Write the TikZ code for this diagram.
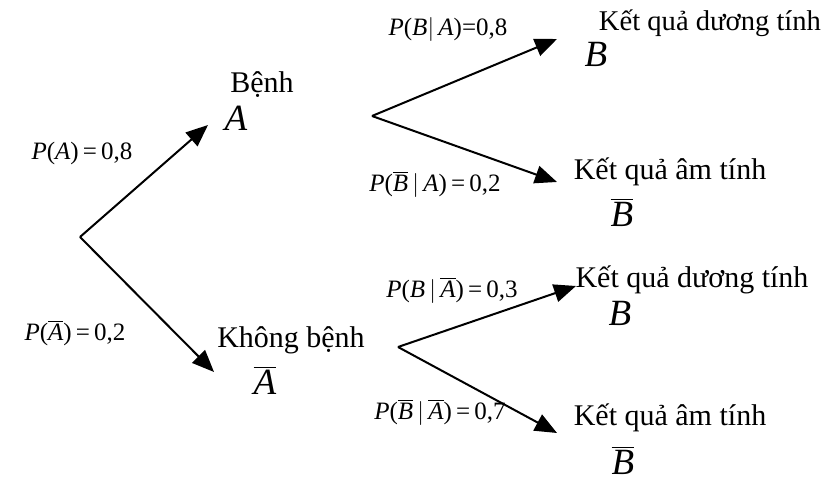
\documentclass[tikz,border=0pt]{standalone}
\usepackage{fontspec}
\setmainfont{Liberation Serif}
\usepackage{tikz}
\usetikzlibrary{arrows.meta}

\newcommand{\vI}[1]{\textit{#1}}
\newcommand{\vbar}[1]{$\overline{\mbox{\textit{#1}}}$}

\begin{document}
\begin{tikzpicture}[
    x=0.5pt, y=-0.5pt,
    line/.style={-{Triangle[length=11pt,width=9pt]}, line width=1pt},
    txt/.style={inner sep=0pt, font=\fontsize{15}{17}\selectfont},
    prob/.style={inner sep=0pt, font=\fontsize{12.5}{14}\selectfont},
    sym/.style={inner sep=0pt, font=\fontsize{18.5}{20}\selectfont}
]
\useasboundingbox (0,0) rectangle (827,497);

% Branch points and arrow tips.
\coordinate (root) at (80,237);
\coordinate (tipA) at (208,125);
\coordinate (tipNA) at (214,372);
\coordinate (forkA) at (372,116);
\coordinate (forkNA) at (398,347);
\coordinate (tipAB) at (557,39);
\coordinate (tipANB) at (557,182);
\coordinate (tipNAB) at (576,286);
\coordinate (tipNANB) at (557,433);

% First level.
\node[txt] (benh) at (262,85) {Bệnh};
\node[sym] (symA) at (236,118) {\vI{A}};
\node[txt] (khong) at (291,340) {Không bệnh};
\node[sym] (symNA) at (265,380) {\vbar{A}};
\node[prob] (pA) at (82,153) {\vI{P}(\vI{A})\,=\,0,8};
\node[prob] (pNA) at (75,333) {\vI{P}(\vbar{A})\,=\,0,2};

% Second level, upper fork.
\node[txt, font=\fontsize{14.3}{16}\selectfont] (posA) at (710,23) {Kết quả dương tính};
\node[sym] (symAB) at (596,54) {\vI{B}};
\node[txt] (negA) at (670,172) {Kết quả âm tính};
\node[sym] (symANB) at (622,212) {\vbar{B}};
\node[prob] (pBA) at (448,30) {\vI{P}(\vI{B}$|$\,\vI{A})=0,8};
\node[prob] (pNBA) at (435,184) {\vI{P}(\vbar{B}\,$|$\,\vI{A})\,=\,0,2};

% Second level, lower fork.
\node[txt] (posNA) at (692,280) {Kết quả dương tính};
\node[sym] (symNAB) at (620,313) {\vI{B}};
\node[txt] (negNA) at (670,418) {Kết quả âm tính};
\node[sym] (symNANB) at (623,460) {\vbar{B}};
\node[prob] (pBNA) at (452,290) {\vI{P}(\vI{B}\,$|$\,\vbar{A})\,=\,0,3};
\node[prob] (pNBNA) at (440,412) {\vI{P}(\vbar{B}\,$|$\,\vbar{A})\,=\,0,7};

% Arrows.
\draw[line] (root) -- (tipA);
\draw[line] (root) -- (tipNA);
\draw[line] (forkA) -- (tipAB);
\draw[line] (forkA) -- (tipANB);
\draw[line] (forkNA) -- (tipNAB);
\draw[line] (forkNA) -- (tipNANB);

\end{tikzpicture}
\end{document}
